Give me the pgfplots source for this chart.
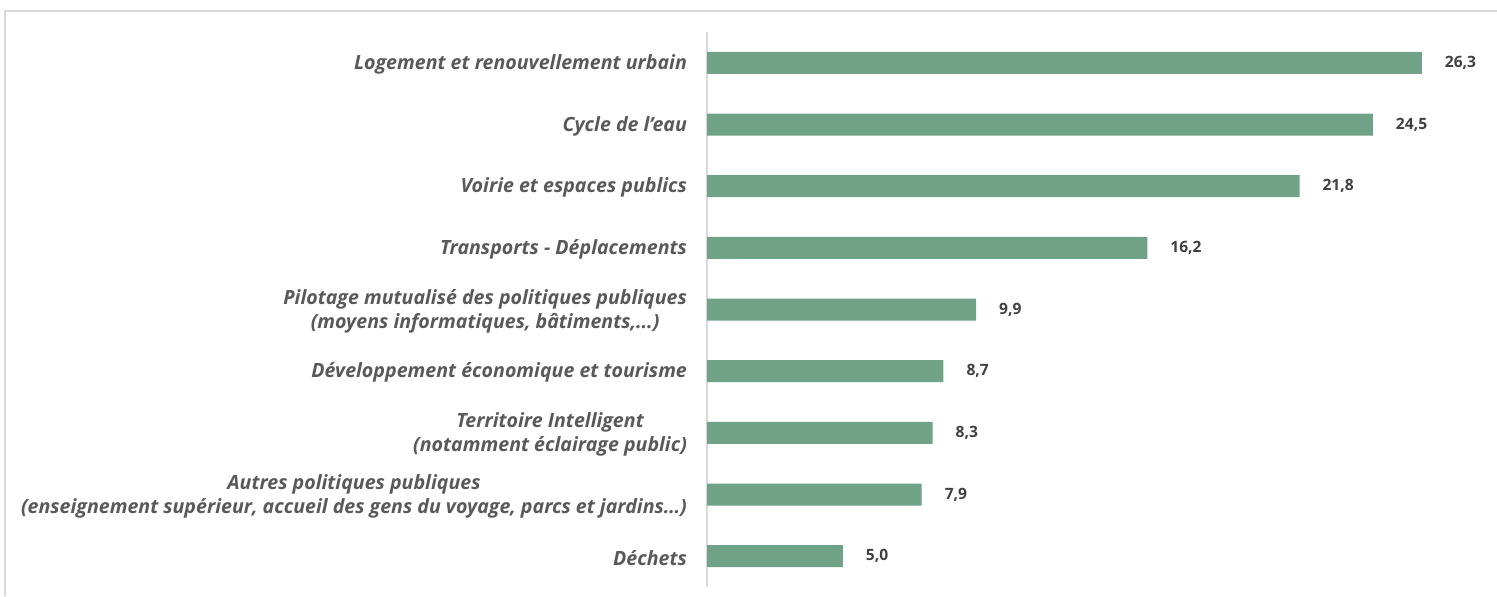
\documentclass[border=0pt]{standalone}
\usepackage{pgfplots}
\pgfplotsset{compat=1.18}
\usepackage{fontspec}
\setmainfont{Open Sans}
\definecolor{barc}{HTML}{6FA287}
\definecolor{txt}{HTML}{404040}
\definecolor{lbl}{HTML}{595959}
\definecolor{frame}{HTML}{D9D9D9}
\newcommand{\dotsx}{...}
\begin{document}
\begin{tikzpicture}
\useasboundingbox (0,0) rectangle (748.5pt,298pt);
\draw[frame, line width=1pt] (2.5pt,0) -- (2.5pt,292.5pt) -- (748.5pt,292.5pt);
\begin{axis}[
  at={(353.5pt,4.5pt)}, anchor=south west,
  scale only axis, width=380.5pt, height=277.5pt,
  xbar, bar width=11pt,
  xmin=0, xmax=28, ymin=-0.5, ymax=8.5,
  axis x line=none,
  axis y line*=left,
  y axis line style={draw=frame, line width=1pt, -},
  ytick={0,1,2,3,4,5,6,7,8}, major tick length=0pt,
  yticklabels={D\'echets,
    {Autres politiques publiques\\(enseignement sup\'erieur, accueil des gens du voyage, parcs et jardins\ldots)},
    {Territoire Intelligent\\(notamment \'eclairage public)},
    D\'eveloppement \'economique et tourisme,
    {Pilotage mutualis\'e des politiques publiques\\(moyens informatiques, b\^atiments,\dotsx)},
    Transports - D\'eplacements,
    Voirie et espaces publics,
    Cycle de l\symbol{39}eau,
    Logement et renouvellement urbain},
  yticklabel style={align=center, font=\fontsize{9.8}{12}\selectfont\bfseries\itshape, text=lbl, xshift=-6.5pt, yshift=-0.8pt},
  nodes near coords,
  nodes near coords style={font=\fontsize{7.8}{10}\selectfont\bfseries, text=txt, xshift=8pt},
  /pgf/number format/.cd, fixed, fixed zerofill, precision=1, use comma, assume math mode=true,
]
\addplot[fill=barc, draw=none] coordinates {
(5.0,0) (7.9,1) (8.3,2) (8.7,3) (9.9,4) (16.2,5) (21.8,6) (24.5,7) (26.3,8)};
\end{axis}
\end{tikzpicture}
\end{document}
